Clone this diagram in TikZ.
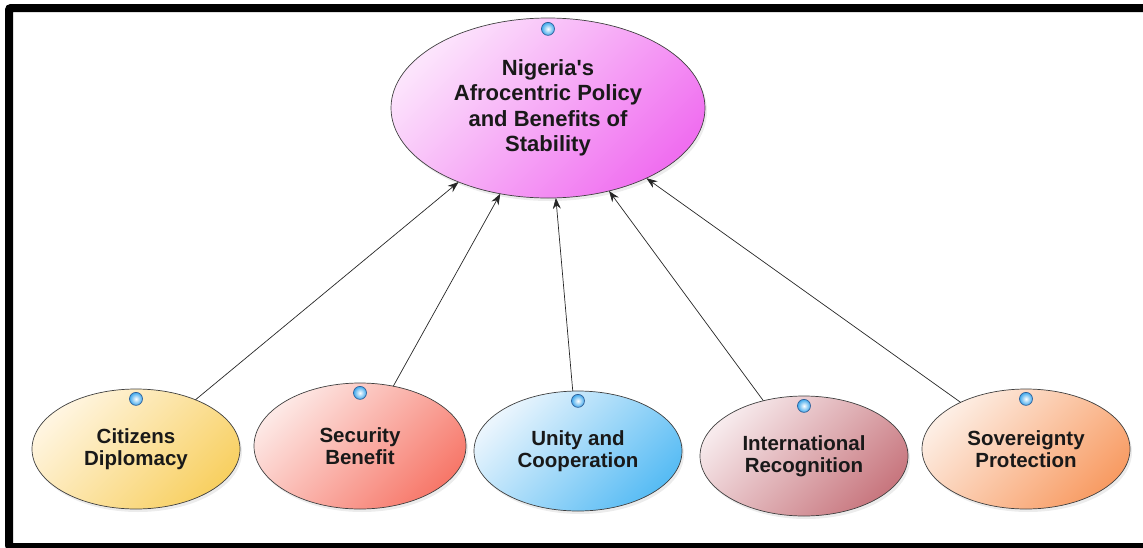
\documentclass[tikz,border=0pt]{standalone}
\usepackage{fontspec}
\setmainfont{Liberation Sans}
\usetikzlibrary{shapes.geometric,positioning,arrows.meta,shadows}

\definecolor{hublite}{HTML}{FCE4FC}
\definecolor{hubdark}{HTML}{F06EF0}
\definecolor{citlite}{HTML}{FFF5E0}
\definecolor{citdark}{HTML}{F8D062}
\definecolor{seclite}{HTML}{FDE8E5}
\definecolor{secdark}{HTML}{F7786A}
\definecolor{unilite}{HTML}{EAF5FD}
\definecolor{unidark}{HTML}{58BCF4}
\definecolor{intlite}{HTML}{F7EAEC}
\definecolor{intdark}{HTML}{C8777F}
\definecolor{sovlite}{HTML}{FDEEE4}
\definecolor{sovdark}{HTML}{F89C64}
\definecolor{knobblue}{HTML}{3FA8EC}
\definecolor{knobline}{HTML}{2F5F98}

\tikzset{
  bubble/.style 2 args={ellipse, draw=black!75, line width=0.7pt,
    inner sep=0pt, outer sep=0pt, minimum width=208pt, minimum height=120pt,
    align=center, text=black!90,
    font=\fontsize{20.5}{22}\selectfont\bfseries,
    drop shadow={shadow xshift=2pt, shadow yshift=-3pt, opacity=0.15},
    top color=#1, bottom color=#2, shading angle=45},
  knob/.style={circle, draw=knobline, line width=0.7pt, inner sep=0pt,
    minimum size=13pt, inner color=white, outer color=knobblue},
  link/.style={-{Stealth[length=11pt,width=8pt]}, line width=0.7pt, black!85},
  frame/.style={line width=8pt, black, rounded corners=2pt}
}

\begin{document}
\begin{tikzpicture}[x=1pt,y=-1pt]
  \useasboundingbox (0,0) rectangle (1143,547);

  % Frame
  \draw[frame] (1170,8) -- (9,8) -- (9,547) -- (1170,547);

  % Nodes
  \node[bubble={hublite}{hubdark}, minimum width=314pt, minimum height=180pt,
        font=\fontsize{22}{25.5}\selectfont\bfseries] (main) at (548,108)
        {Nigeria\textquotesingle s\\Afrocentric Policy\\and Benefits of\\Stability};

  \node[bubble={citlite}{citdark}] (cit) at (136,449) {Citizens\\Diplomacy};
  \node[bubble={seclite}{secdark}, minimum width=212pt, minimum height=126pt,
        right=14pt of cit, yshift=3pt] (sec) {Security\\Benefit};
  \node[bubble={unilite}{unidark}, right=8pt of sec, yshift=-5pt] (uni) {Unity and\\Cooperation};
  \node[bubble={intlite}{intdark}, right=18pt of uni, yshift=-5pt] (int) {International\\Recognition};
  \node[bubble={sovlite}{sovdark}, right=14pt of int, yshift=7pt] (sov) {Sovereignty\\Protection};

  % Knobs
  \node[knob, below=4pt of main.north] (main_k) {};
  \node[knob, below=3pt of cit.north] (cit_k) {};
  \node[knob, below=3pt of sec.north] (sec_k) {};
  \node[knob, below=3pt of uni.north] (uni_k) {};
  \node[knob, below=3pt of int.north] (int_k) {};
  \node[knob, below=3pt of sov.north] (sov_k) {};

  % Edges
  \draw[link] (cit) -- (main);
  \draw[link] (sec) -- (main);
  \draw[link] (uni) -- (main);
  \draw[link] (int) -- (main);
  \draw[link] (sov) -- (main);
\end{tikzpicture}
\end{document}
